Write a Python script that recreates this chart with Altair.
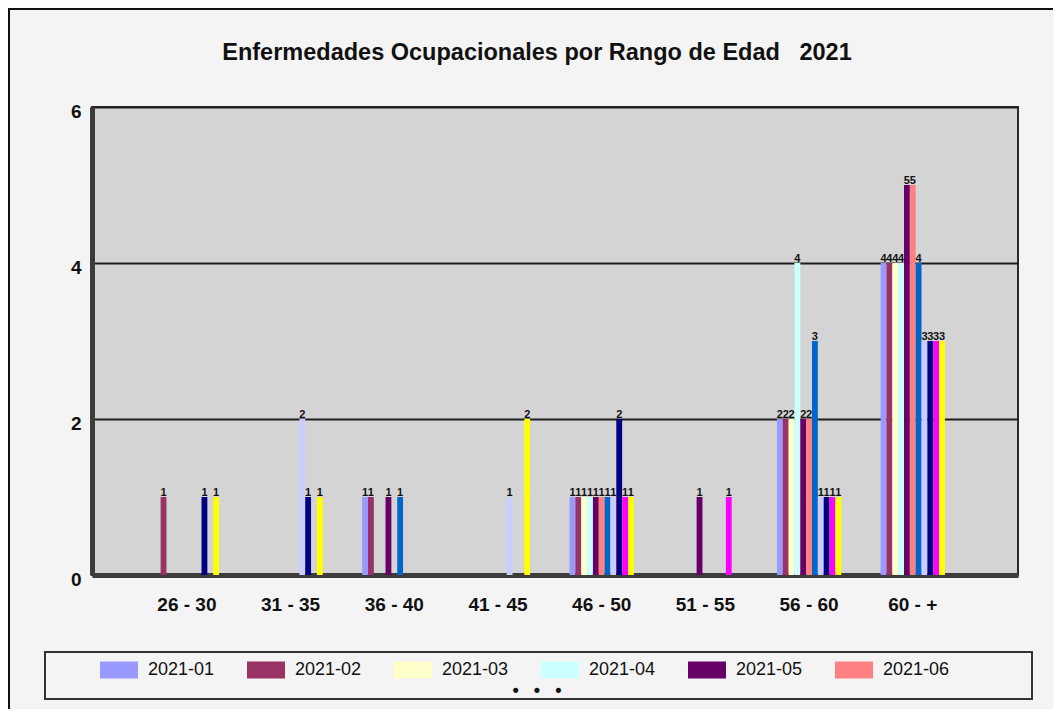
import altair as alt
import pandas as pd

categorias = ["26 - 30", "31 - 35", "36 - 40", "41 - 45", "46 - 50", "51 - 55", "56 - 60", "60 - +"]
meses = ["2021-01", "2021-02", "2021-03", "2021-04", "2021-05", "2021-06",
         "2021-07", "2021-08", "2021-09", "2021-10", "2021-11"]
colores = ["#9999FF", "#993366", "#FFFFCC", "#CCFFFF", "#660066", "#FF8080",
           "#0066CC", "#CCCCFF", "#000080", "#FF00FF", "#FFFF00"]

m01 = [0, 0, 1, 0, 1, 0, 2, 4]
m02 = [1, 0, 1, 0, 1, 0, 2, 4]
m03 = [0, 0, 0, 0, 1, 0, 2, 4]
m04 = [0, 0, 0, 0, 1, 0, 4, 4]
m05 = [0, 0, 1, 0, 1, 1, 2, 5]
m06 = [0, 0, 0, 0, 1, 0, 2, 5]
m07 = [0, 0, 1, 0, 1, 0, 3, 4]
m08 = [0, 2, 0, 1, 1, 0, 1, 3]
m09 = [1, 1, 0, 0, 2, 0, 1, 3]
m10 = [0, 0, 0, 0, 1, 1, 1, 3]
m11 = [1, 1, 0, 2, 1, 0, 1, 3]
series = [m01, m02, m03, m04, m05, m06, m07, m08, m09, m10, m11]

y_ticks = [0, 2, 4, 6]
leyenda_visible = meses[:6]
NB = "\u00a0"
titulo = "Enfermedades Ocupacionales por Rango de Edad" + NB * 3 + "2021"

rows = []
for mes, vals in zip(meses, series):
    for cat, v in zip(categorias, vals):
        if v > 0:
            rows.append({"Rango": cat, "Mes": mes, "Valor": v})
df = pd.DataFrame(rows)

FONT = "Liberation Sans"

x_enc = alt.X("Rango:N", sort=categorias,
              scale=alt.Scale(paddingInner=0.38, paddingOuter=0.655, align=0.462),
              axis=alt.Axis(title=None, labelAngle=0, labelFontSize=19, labelFontWeight="bold",
                            labelColor="#111", ticks=False, labelPadding=20,
                            domain=True, domainColor="#3c3c3c", domainWidth=5, grid=False))
y_enc = alt.Y("Valor:Q", scale=alt.Scale(domain=[0, 6], nice=False),
              axis=alt.Axis(title=None, values=y_ticks, format="d", labelFontSize=19,
                            labelFontWeight="bold",
                            labelColor="#111", ticks=False, labelPadding=11, labelOffset=4,
                            domain=True, domainColor="#3c3c3c", domainWidth=5,
                            grid=True, gridColor="#1e1e1e", gridWidth=2))
xoff = alt.XOffset("Mes:N", sort=meses, scale=alt.Scale(paddingInner=0, paddingOuter=0))

base = alt.Chart(df)

bars = base.mark_bar().encode(
    x=x_enc, y=y_enc, xOffset=xoff,
    color=alt.Color("Mes:N", sort=meses,
                    scale=alt.Scale(domain=meses, range=colores),
                    legend=alt.Legend(title=None, values=leyenda_visible, orient="none",
                                      legendX=8, legendY=544, direction="horizontal",
                                      columns=6, columnPadding=32,
                                      symbolType="M-1,-0.45L1,-0.45L1,0.45L-1,0.45Z",
                                      symbolSize=1444, symbolStrokeWidth=0,
                                      labelFontSize=18, labelFont=FONT, labelColor="#111",
                                      labelOffset=10, padding=0)),
)

labels = base.mark_text(baseline="bottom", dy=1, fontSize=11, fontWeight="bold",
                        color="#111").encode(
    x=alt.X("Rango:N", sort=categorias), y="Valor:Q", xOffset=xoff, text="Valor:Q")

deco = pd.DataFrame({"k": [0]})
frame = alt.Chart(deco).mark_rect(fill=None, stroke="#111", strokeWidth=2).encode(
    x=alt.value(-83), x2=alt.value(2000), y=alt.value(-98), y2=alt.value(2000))
legbox = alt.Chart(deco).mark_rect(fill=None, stroke="#333", strokeWidth=2).encode(
    x=alt.value(-47), x2=alt.value(940), y=alt.value(545), y2=alt.value(592))
dots = alt.Chart(deco).mark_text(text="•" + NB * 3 + "•" + NB * 3 + "•", fontSize=18,
                                 fontWeight="bold", color="#111").encode(
    x=alt.value(445), y=alt.value(584))
title_txt = alt.Chart(deco).mark_text(text=titulo, fontSize=23.5, fontWeight="bold", font=FONT,
                                      color="#111", baseline="alphabetic", align="center").encode(
    x=alt.value(445), y=alt.value(-47))

chart = alt.layer(frame, bars, labels, legbox, dots, title_txt).properties(
    width=926, height=468,
    autosize=alt.AutoSizeParams(type="none"),
    padding={"left": 84, "top": 99, "right": 35, "bottom": 134},
    background="#F4F4F4",
).configure(font=FONT).configure_view(fill="#D4D4D4", stroke="#2a2a2a", strokeWidth=2)

chart.save("out.html", embed_options={"renderer": "svg", "actions": False})
